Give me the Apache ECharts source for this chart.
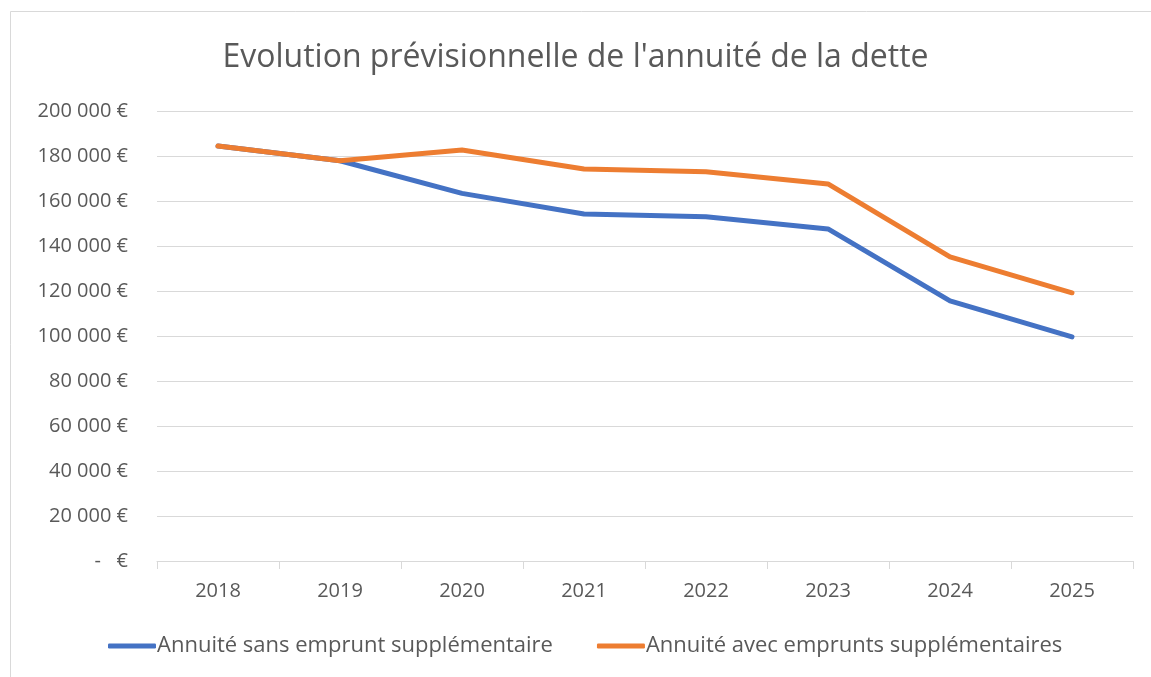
<!DOCTYPE html>
<html>
<head>
<meta charset="utf-8">
<script src="https://cdn.jsdelivr.net/npm/echarts@6/dist/echarts.min.js"></script>
<style>
html,body{margin:0;padding:0;background:#fff;}
#c{width:1151px;height:677px;}
</style>
</head>
<body>
<div id="c"></div>
<script>
const titleText = "Evolution prévisionnelle de l'annuité de la dette";
const years = ["2018","2019","2020","2021","2022","2023","2024","2025"];
const seriesNames = ["Annuité sans emprunt supplémentaire","Annuité avec emprunts supplémentaires"];
const sansEmprunt = [184400, 177900, 163400, 154200, 153000, 147600, 115600, 99600];
const avecEmprunts = [184400, 177900, 182700, 174200, 173000, 167600, 135200, 119200];

const chart = echarts.init(document.getElementById('c'), null, {renderer:'canvas'});
const txt = '#595959';
const font = 'Open Sans';
function fmt(v){
  if (v === 0) return '-   €';
  return String(v).replace(/\B(?=(\d{3})+(?!\d))/g, ' ') + ' €';
}
chart.setOption({
  backgroundColor:'#fff',
  animation:false,
  graphic:[{type:'rect', shape:{x:10.5,y:11.5,width:1160,height:700}, style:{fill:'none',stroke:'#d9d9d9',lineWidth:1}}],
  title:{text:titleText,left:'center',top:37,textStyle:{fontFamily:font,fontSize:32,fontWeight:'normal',color:txt}},
  grid:{left:157,right:18,top:111,bottom:116},
  legend:{
    left:103, top:630, itemWidth:48, itemHeight:5, itemGap:44, icon:'roundRect',
    textStyle:{fontFamily:font,fontSize:22,color:txt,padding:[0,0,0,-4]},
    data:seriesNames
  },
  xAxis:{
    type:'category', data:years, boundaryGap:true,
    axisLine:{lineStyle:{color:'#d9d9d9',width:1}},
    axisTick:{show:true,length:8,lineStyle:{color:'#d9d9d9'}},
    axisLabel:{fontFamily:font,fontSize:20,color:txt,margin:20}
  },
  yAxis:{
    type:'value', min:0, max:200000, interval:20000,
    axisLine:{show:false}, axisTick:{show:false},
    splitLine:{lineStyle:{color:'#d9d9d9',width:1}},
    axisLabel:{fontFamily:font,fontSize:20,color:txt,margin:29,formatter:fmt}
  },
  series:[
    {name:seriesNames[0],type:'line',data:sansEmprunt,showSymbol:false,symbol:'none',
     lineStyle:{color:'#4472C4',width:5,cap:'round',join:'round'},itemStyle:{color:'#4472C4'}},
    {name:seriesNames[1],type:'line',data:avecEmprunts,showSymbol:false,symbol:'none',
     lineStyle:{color:'#ED7D31',width:5,cap:'round',join:'round'},itemStyle:{color:'#ED7D31'}}
  ]
});
</script>
</body>
</html>
